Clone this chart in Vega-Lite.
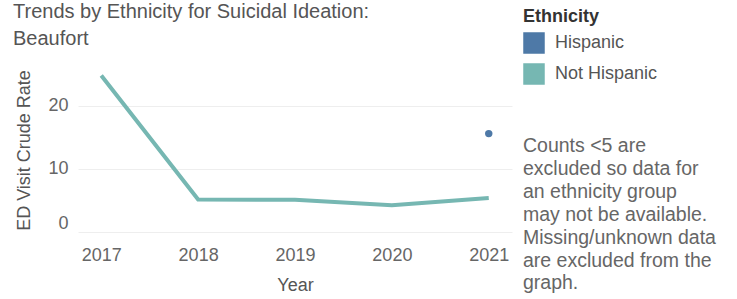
{
  "$schema": "https://vega.github.io/schema/vega-lite/v6.json",
  "autosize": {"type": "none"},
  "width": 434,
  "height": 164,
  "padding": {"left": 78, "top": 68, "right": 225, "bottom": 67},
  "background": "white",
  "config": {
    "font": "Liberation Sans",
    "view": {"stroke": null},
    "axis": {"labelColor": "#666", "titleColor": "#555", "labelFontSize": 18, "titleFontSize": 18, "titleFontWeight": "normal", "domain": false, "ticks": false, "gridColor": "#eeeeee"}
  },
  "title": {
    "text": ["Trends by Ethnicity for Suicidal Ideation:", "Beaufort"],
    "anchor": "start",
    "frame": "group",
    "baseline": "alphabetic",
    "fontSize": 20,
    "fontWeight": "normal",
    "color": "#555",
    "lineHeight": 27,
    "dx": -65,
    "dy": 57,
    "offset": 0
  },
  "datasets": {
    "rates": [
      {"Year": "2017", "Ethnicity": "Not Hispanic", "Rate": 24.8},
      {"Year": "2018", "Ethnicity": "Not Hispanic", "Rate": 5.15},
      {"Year": "2019", "Ethnicity": "Not Hispanic", "Rate": 5.1},
      {"Year": "2020", "Ethnicity": "Not Hispanic", "Rate": 4.25},
      {"Year": "2021", "Ethnicity": "Not Hispanic", "Rate": 5.4},
      {"Year": "2021", "Ethnicity": "Hispanic", "Rate": 15.6}
    ]
  },
  "data": {"name": "rates"},
  "encoding": {
    "x": {
      "field": "Year", "type": "ordinal",
      "scale": {"type": "point", "padding": 0.24},
      "axis": {"labelAngle": 0, "labelPadding": 14, "titlePadding": 12, "grid": false}
    },
    "y": {
      "field": "Rate", "type": "quantitative",
      "scale": {"domain": [0, 26], "nice": false, "zero": false},
      "axis": {"values": [0, 10, 20], "title": "ED Visit Crude Rate", "labelPadding": 10, "titlePadding": 14, "grid": true, "labelFlush": true, "labelFlushOffset": 0}
    },
    "color": {
      "field": "Ethnicity", "type": "nominal",
      "scale": {"domain": ["Hispanic", "Not Hispanic"], "range": ["#4e79a7", "#76b7b2"]},
      "legend": {
        "orient": "none", "legendX": 445, "legendY": -60,
        "title": "Ethnicity", "titleFontSize": 18, "titleFontWeight": "bold", "titleColor": "#333",
        "titlePadding": 6,
        "labelFontSize": 18, "labelColor": "#555", "labelOffset": 10,
        "symbolType": "square", "symbolSize": 400, "rowPadding": 5, "padding": 0,
        "encode": {"symbols": {"update": {"fill": {"scale": "color", "field": "value"}, "stroke": {"value": "transparent"}, "opacity": {"value": 1}}}}
      }
    }
  },
  "layer": [
    {
      "transform": [{"filter": "datum.Ethnicity === 'Not Hispanic'"}],
      "mark": {"type": "line", "strokeWidth": 4}
    },
    {
      "transform": [{"filter": "datum.Ethnicity === 'Hispanic'"}],
      "mark": {"type": "point", "filled": true, "size": 55, "opacity": 1},
      "encoding": {
        "shape": {
          "datum": "note", "type": "nominal",
          "scale": {"range": ["circle"]},
          "legend": {
            "orient": "none", "legendX": 445, "legendY": 69,
            "title": ["Counts <5 are", "excluded so data for", "an ethnicity group", "may not be available.", "Missing/unknown data", "are excluded from the", "graph."],
            "titleFontSize": 19.5, "titleFontWeight": "normal", "titleColor": "#666",
            "titleLineHeight": 22.9, "titleLimit": 300, "titlePadding": 0,
            "symbolOpacity": 0, "symbolSize": 1, "labelExpr": "''", "padding": 0
          }
        }
      }
    }
  ]
}
